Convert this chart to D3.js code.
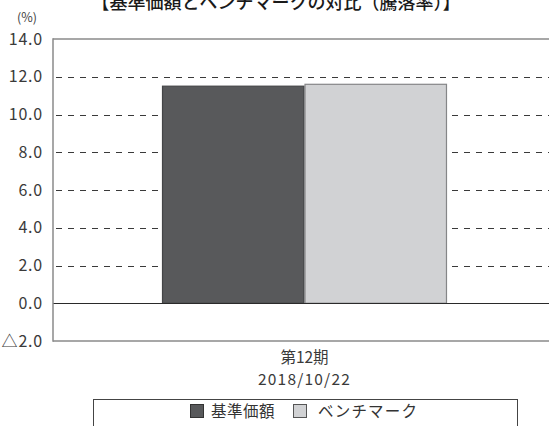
<!DOCTYPE html>
<html>
<head>
<meta charset="utf-8">
<script src="https://cdn.jsdelivr.net/npm/d3@7"></script>
<style>
    body { margin: 0; background: #fff; }
    svg { display: block; font-family: "Noto Sans CJK JP", "Noto Sans", sans-serif; }
    .tick text { fill: #3a3a3a; }
</style>
</head>
<body>
<div id="chart"></div>
<script>
// data
const title = "【基準価額とベンチマークの対比（騰落率）】";
const categories = ["第12期"];
const dates = ["2018/10/22"];
const series = ["基準価額", "ベンチマーク"];
const values = [11.5, 11.6];
const yTicks = [-2, 0, 2, 4, 6, 8, 10, 12, 14];
const gridTicks = [2, 4, 6, 8, 10, 12];

const seriesColors = ["#58595b", "#d1d2d4"];
const seriesStroke = ["#444547", "#858688"];

const width = 549, height = 426;
const margin = { left: 53, right: -7, top: 39, bottom: 85 };

const svg = d3.select("#chart")
    .append("svg")
    .attr("width", width)
    .attr("height", height);

// scales
const y = d3.scaleLinear()
    .domain([-2, 14])
    .range([height - margin.bottom, margin.top]);

const x0 = d3.scaleBand()
    .domain(categories)
    .range([margin.left, width - margin.right])
    .paddingInner(0)
    .paddingOuter(0.3825);

const x1 = d3.scaleBand()
    .domain(series)
    .range([0, x0.bandwidth()])
    .padding(0);

const plotRight = width - margin.right;

// title (top of it runs off the page, as in the source)
svg.append("text")
    .attr("x", 276)
    .attr("y", 9)
    .attr("text-anchor", "middle")
    .attr("font-size", "18px")
    .attr("font-weight", 500)
    .attr("fill", "#1a1a1a")
    .text(title);

// unit
svg.append("text")
    .attr("x", 27)
    .attr("y", 22)
    .attr("text-anchor", "middle")
    .attr("font-size", "12.5px")
    .attr("fill", "#444")
    .text("(%)");

// dashed grid
svg.append("g")
    .selectAll("line")
    .data(gridTicks)
    .enter()
    .append("line")
    .attr("x1", margin.left)
    .attr("x2", plotRight)
    .attr("y1", d => Math.round(y(d)) + 0.5)
    .attr("y2", d => Math.round(y(d)) + 0.5)
    .attr("stroke", "#3a3a3a")
    .attr("stroke-width", 1)
    .attr("stroke-dasharray", "6,6")
    .attr("stroke-dashoffset", -3);

// bars
const groups = svg.append("g")
    .selectAll("g")
    .data(categories)
    .enter()
    .append("g")
    .attr("transform", d => "translate(" + x0(d) + ",0)");

groups.selectAll("rect")
    .data(series.map((s, i) => ({ name: s, value: values[i], i: i })))
    .enter()
    .append("rect")
    .attr("x", d => x1(d.name) + 0.5)
    .attr("width", x1.bandwidth() - 1)
    .attr("y", d => y(Math.max(0, d.value)))
    .attr("height", d => Math.abs(y(d.value) - y(0)))
    .attr("fill", d => seriesColors[d.i])
    .attr("stroke", d => seriesStroke[d.i])
    .attr("stroke-width", 1.2);

// frame lines
svg.append("line")
    .attr("x1", margin.left).attr("x2", plotRight)
    .attr("y1", y(14)).attr("y2", y(14))
    .attr("stroke", "#8a8a8a").attr("stroke-width", 1.5);

svg.append("line")
    .attr("x1", margin.left).attr("x2", plotRight)
    .attr("y1", y(-2)).attr("y2", y(-2))
    .attr("stroke", "#8a8a8a").attr("stroke-width", 1.5);

svg.append("line")
    .attr("x1", margin.left).attr("x2", plotRight)
    .attr("y1", Math.round(y(0)) + 0.5).attr("y2", Math.round(y(0)) + 0.5)
    .attr("stroke", "#2a2a2a").attr("stroke-width", 1);

svg.append("line")
    .attr("x1", margin.left).attr("x2", margin.left)
    .attr("y1", y(14) - 0.75).attr("y2", y(-2) + 0.75)
    .attr("stroke", "#8a8a8a").attr("stroke-width", 1.5);

// y axis labels
const yAxis = d3.axisLeft(y)
    .tickValues(yTicks)
    .tickSize(0)
    .tickPadding(10)
    .tickFormat(d => d < 0 ? "△" + Math.abs(d).toFixed(1) : d.toFixed(1));

svg.append("g")
    .attr("class", "y axis")
    .attr("transform", "translate(" + margin.left + ",0)")
    .call(yAxis)
    .call(g => g.select(".domain").remove())
    .selectAll("text")
    .attr("font-size", "16px")
    .attr("letter-spacing", "0.8px")
    .attr("font-family", "\"Noto Sans CJK JP\", sans-serif");

// x labels
const xl = svg.append("g")
    .selectAll("g")
    .data(categories)
    .enter()
    .append("g")
    .attr("transform", d => "translate(" + (x0(d) + x0.bandwidth() / 2) + ",0)");

xl.append("text")
    .attr("y", 363)
    .attr("text-anchor", "middle")
    .attr("font-size", "15.5px")
    .attr("fill", "#3a3a3a")
    .text(d => d);

xl.append("text")
    .attr("y", 385)
    .attr("text-anchor", "middle")
    .attr("font-size", "15.5px")
    .attr("letter-spacing", "1.2px")
    .attr("fill", "#3a3a3a")
    .text((d, i) => dates[i]);

// legend
svg.append("rect")
    .attr("x", 93.5)
    .attr("y", 399.5)
    .attr("width", 424)
    .attr("height", 40)
    .attr("fill", "none")
    .attr("stroke", "#444")
    .attr("stroke-width", 1);

const legendX = [190, 293];
const legend = svg.append("g")
    .selectAll("g")
    .data(series)
    .enter()
    .append("g")
    .attr("transform", (d, i) => "translate(" + legendX[i] + ",404)");

legend.append("rect")
    .attr("x", 0.5)
    .attr("y", 0.5)
    .attr("width", 13)
    .attr("height", 13)
    .attr("fill", (d, i) => seriesColors[i])
    .attr("stroke", (d, i) => i === 0 ? "#333" : "#555")
    .attr("stroke-width", 1);

legend.append("text")
    .attr("x", (d, i) => i === 0 ? 21 : 25)
    .attr("y", 13)
    .attr("font-size", "15.5px")
    .attr("fill", "#333")
    .attr("letter-spacing", (d, i) => i === 0 ? "0.5px" : "1.2px")
    .text(d => d);
</script>
</body>
</html>
